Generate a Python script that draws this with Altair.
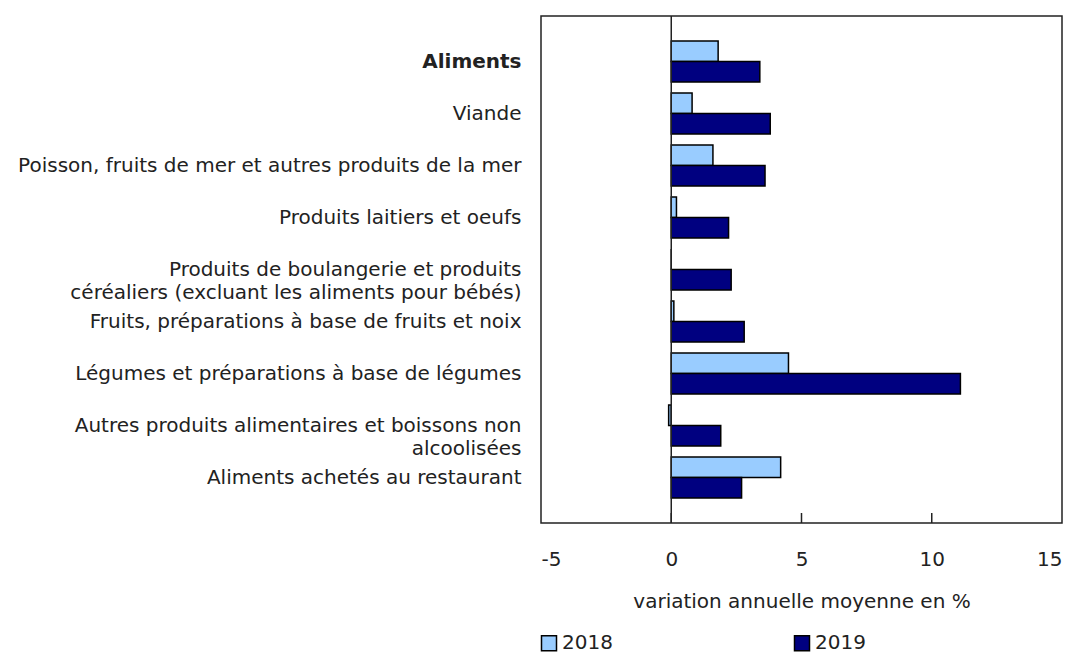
import altair as alt
import pandas as pd

categories = [
    "Aliments",
    "Viande",
    "Poisson, fruits de mer et autres produits de la mer",
    "Produits laitiers et oeufs",
    "Produits de boulangerie et produits\ncéréaliers (excluant les aliments pour bébés)",
    "Fruits, préparations à base de fruits et noix",
    "Légumes et préparations à base de légumes",
    "Autres produits alimentaires et boissons non\nalcoolisées",
    "Aliments achetés au restaurant",
]
years = ["2018", "2019"]
values_2018 = [1.8, 0.8, 1.6, 0.2, 0.0, 0.1, 4.5, -0.1, 4.2]
values_2019 = [3.4, 3.8, 3.6, 2.2, 2.3, 2.8, 11.1, 1.9, 2.7]
tick_values = [-5, 0, 5, 10, 15]
inner_ticks = [0, 5, 10]
colors = ["#99CCFF", "#000080"]

rows = []
for c, a, b in zip(categories, values_2018, values_2019):
    rows.append({"category": c, "year": "2018", "value": a})
    rows.append({"category": c, "year": "2019", "value": b})
df = pd.DataFrame(rows)

W, H = 521, 507
FONT = "DejaVu Sans"
FS = 20
TXT = "#222222"

bars = alt.Chart(df).mark_bar(stroke="black", strokeWidth=1.5).encode(
    y=alt.Y(
        "category:N",
        sort=categories,
        scale=alt.Scale(paddingInner=0.21, paddingOuter=0.48),
        axis=alt.Axis(
            title=None,
            ticks=False,
            domain=False,
            labelPadding=20,
            minExtent=528,
            labelLimit=700,
            labelFont=FONT,
            labelFontSize=FS,
            labelColor=TXT,
            labelLineHeight=23,
            labelExpr="split(datum.label, '\\n')",
            labelFontWeight={"expr": "datum.value == 'Aliments' ? 'bold' : 'normal'"},
        ),
    ),
    yOffset=alt.YOffset("year:N", sort=years),
    x=alt.X(
        "value:Q",
        scale=alt.Scale(domain=[-5, 15], nice=False),
        axis=alt.Axis(
            values=tick_values,
            ticks=False,
            domain=False,
            grid=False,
            labelPadding=26,
            labelFont=FONT,
            labelFontSize=FS,
            labelColor=TXT,
            labelExpr="'' + datum.value",
            title="variation annuelle moyenne en %",
            titleFont=FONT,
            titleFontSize=FS,
            titleFontWeight="normal",
            titleColor=TXT,
            titlePadding=22,
        ),
    ),
    color=alt.Color(
        "year:N",
        scale=alt.Scale(domain=years, range=colors),
        legend=alt.Legend(
            title=None,
            orient="none",
            legendX=-2,
            legendY=617,
            direction="horizontal",
            columns=2,
            columnPadding=178,
            symbolType="square",
            symbolSize=225,
            symbolStrokeColor="black",
            symbolStrokeWidth=1.5,
            labelFont=FONT,
            labelFontSize=FS,
            labelColor=TXT,
            labelOffset=3,
        ),
    ),
)

zero_df = pd.DataFrame({"x": [0]})
zero_line = alt.Chart(zero_df).mark_rule(color=TXT, strokeWidth=1.5).encode(
    x=alt.X("x:Q")
)

ticks_df = pd.DataFrame({"x": inner_ticks})
tick_marks = alt.Chart(ticks_df).mark_tick(
    color=TXT, thickness=1.5, size=10, opacity=1
).encode(
    x=alt.X("x:Q"),
    y=alt.value(H - 5),
)

chart = alt.layer(bars, zero_line, tick_marks).properties(
    width=W,
    height=H,
    background="white",
    padding={"left": 5, "top": 7, "right": 5, "bottom": 5},
).configure_view(
    stroke=TXT, strokeWidth=1.5
)

chart.save("out.html", embed_options={"renderer": "svg", "actions": False})
